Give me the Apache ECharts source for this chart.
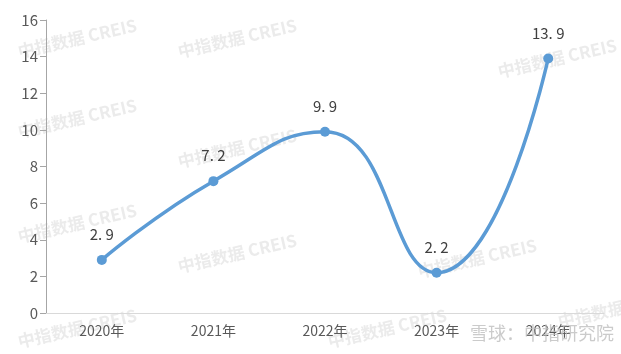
<!DOCTYPE html>
<html><head><meta charset="utf-8">
<script src="https://cdn.jsdelivr.net/npm/echarts@6/dist/echarts.min.js"></script>
<style>html,body{margin:0;padding:0;background:#fff}#c{width:621px;height:354px}</style>
</head><body><div id="c"></div>
<script>
var categories = ['2020年','2021年','2022年','2023年','2024年'];
var values = [2.9, 7.2, 9.9, 2.2, 13.9];
var yTicks = [0, 2, 4, 6, 8, 10, 12, 14, 16];

var wm = [];
var wmPos = [[20,60],[180,60],[20,140],[180,170],[20,245],[180,275],[20,350],[420,280],[500,80],[330,350],[560,330]];
wmPos.forEach(function(p){
  wm.push({type:'text', x:p[0], y:p[1], rotation:Math.PI/14, z:-1,
    style:{text:'中指数据 CREIS', fill:'rgba(205,205,205,0.4)', font:'bold 17px "Noto Sans CJK SC", sans-serif', textVerticalAlign:'bottom'}});
});
wm.push({type:'text', x:470, y:342, z:10,
  style:{text:'雪球：中指研究院', fill:'rgba(190,190,190,0.8)', font:'18px "Noto Sans CJK SC", sans-serif', textVerticalAlign:'bottom'}});

var chart = echarts.init(document.getElementById('c'));
chart.setOption({
  animation:false,
  graphic: wm,
  grid:{left:46, right:17, top:20, bottom:41},
  xAxis:{type:'category', data:categories, boundaryGap:true,
    axisLine:{lineStyle:{color:'#d9d9d9', width:1}},
    axisTick:{show:false},
    axisLabel:{color:'#595959', fontSize:14, margin:11, fontFamily:'"Noto Sans CJK SC", sans-serif'}},
  yAxis:{type:'value', min:0, max:16, interval:2,
    axisLine:{show:true, lineStyle:{color:'#a6a6a6'}},
    axisTick:{show:true, length:6, lineStyle:{color:'#a6a6a6'}},
    splitLine:{show:false},
    axisLabel:{color:'#595959', fontSize:15, margin:8, fontFamily:'"Noto Sans CJK SC", sans-serif'}},
  series:[{type:'line', data:values, smooth:0.5,
    symbol:'circle', symbolSize:10,
    lineStyle:{color:'#5b9bd5', width:3.5},
    itemStyle:{color:'#5b9bd5'},
    label:{show:true, position:'top', distance:13, color:'#404040', fontSize:15,
      fontFamily:'"Noto Sans CJK SC", sans-serif',
      formatter:function(p){return String(p.value).replace('.', '. ');}}
  }]
});
</script></body></html>
